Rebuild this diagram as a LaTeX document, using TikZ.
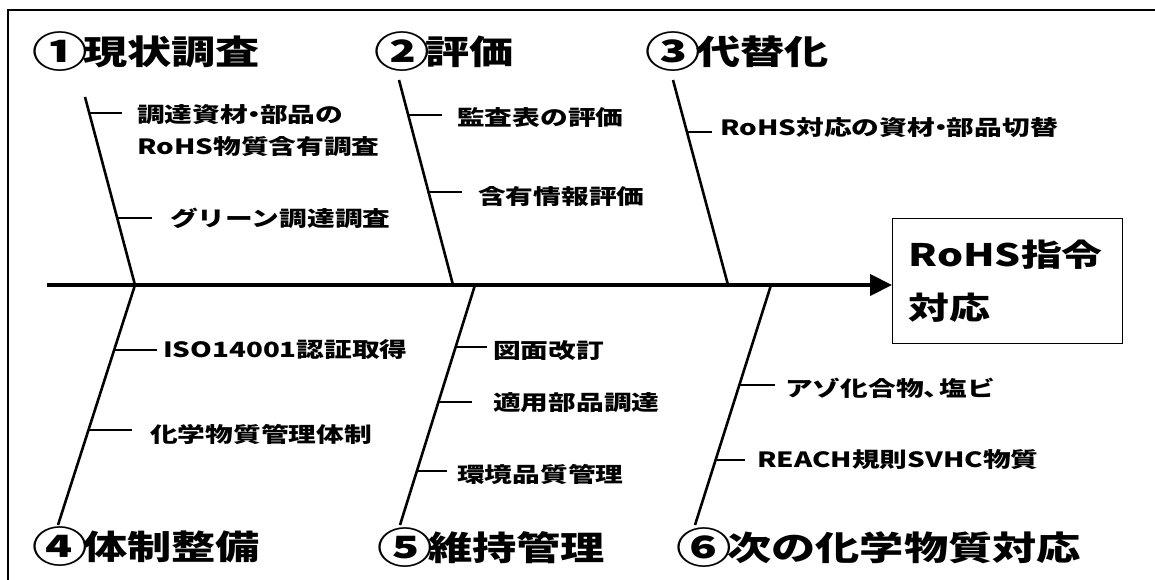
\documentclass[tikz,border=0pt]{standalone}
\usepackage{fontspec}
\newfontfamily\jp[FakeStretch=1.32]{Noto Sans CJK JP}
\usetikzlibrary{arrows.meta,calc}
\newcommand{\cnum}[1]{\makebox[45pt][c]{\raisebox{-3pt}{\fontsize{42}{42}\selectfont #1}}}
\newcommand{\nd}{\makebox[12pt][c]{・}}
\begin{document}
\begin{tikzpicture}[x=1pt,y=-1pt,
  bone/.style={line width=2.6pt},
  tick/.style={line width=2.8pt},
  spine/.style={line width=4.2pt},
  cat/.style={anchor=west,inner sep=0pt,font=\jp\bfseries\fontsize{33.5}{40}\selectfont},
  item/.style={anchor=west,inner sep=0pt,font=\jp\bfseries\fontsize{21}{22}\selectfont},
]
\useasboundingbox (0,0) rectangle (1155,580);
\draw[line width=1.5pt] (8,10) rectangle (1175,600);

% head box
\node[draw,line width=1.3pt,anchor=north west,minimum width=230pt,minimum height=125pt,
      text width=198pt,align=left,inner xsep=16pt,inner ysep=0pt,
      font=\jp\bfseries\fontsize{31}{53}\selectfont] (goal) at (892,218) {\raisebox{-6pt}{RoHS指令}\\\raisebox{-6pt}{対応}};

% spine
\coordinate (tail) at (47,285);
\draw[spine,-{Triangle[length=22pt,width=21pt]}] (tail) -- (tail -| goal.west);

% bones
\coordinate (b1t) at (85,97);   \coordinate (b1s) at (135,285);
\coordinate (b2t) at (399,80);  \coordinate (b2s) at (453,285);
\coordinate (b3t) at (673,80);  \coordinate (b3s) at (728,285);
\coordinate (b4s) at (135,285); \coordinate (b4b) at (58,525);
\coordinate (b5s) at (475,285); \coordinate (b5b) at (400,525);
\coordinate (b6s) at (771,285); \coordinate (b6b) at (695,525);
\draw[bone] (b1t) -- (b1s);
\draw[bone] (b2t) -- (b2s);
\draw[bone] (b3t) -- (b3s);
\draw[bone] (b4s) -- (b4b);
\draw[bone] (b5s) -- (b5b);
\draw[bone] (b6s) -- (b6b);

% category labels
\node[cat] (c1) at (38,52)  {\cnum{①}現状調査};
\node[cat] (c2) at (380,52) {\cnum{②}評価};
\node[cat] (c3) at (651,52) {\cnum{③}代替化};
\node[cat] (c4) at (38,547) {\cnum{④}体制整備};
\node[cat] (c5) at (383,548) {\cnum{⑤}維持管理};
\node[cat] (c6) at (682,548) {\cnum{⑥}次の化学物質対応};

% ticks
\coordinate (t1a) at ($(b1t)!0.085!(b1s)$);
\coordinate (t1b) at ($(b1t)!0.644!(b1s)$);
\coordinate (t2a) at ($(b2t)!0.171!(b2s)$);
\coordinate (t2b) at ($(b2t)!0.546!(b2s)$);
\coordinate (t3a) at ($(b3t)!0.254!(b3s)$);
\coordinate (t4a) at ($(b4s)!0.271!(b4b)$);
\coordinate (t4b) at ($(b4s)!0.604!(b4b)$);
\coordinate (t5a) at ($(b5s)!0.258!(b5b)$);
\coordinate (t5b) at ($(b5s)!0.4875!(b5b)$);
\coordinate (t5c) at ($(b5s)!0.775!(b5b)$);
\coordinate (t6a) at ($(b6s)!0.417!(b6b)$);
\coordinate (t6b) at ($(b6s)!0.729!(b6b)$);
\draw[tick] (t1a) -- ++(33,0);
\draw[tick] (t1b) -- ++(35,0);
\draw[tick] (t2a) -- ++(34,0);
\draw[tick] (t2b) -- ++(34,0);
\draw[tick] (t3a) -- ++(25,0);
\draw[tick] (t4a) -- ++(43,0);
\draw[tick] (t4b) -- ++(44,0);
\draw[tick] (t5a) -- ++(31,0);
\draw[tick] (t5b) -- ++(34,0);
\draw[tick] (t5c) -- ++(30,0);
\draw[tick] (t6a) -- ++(36,0);
\draw[tick] (t6b) -- ++(29,0);

% item labels
\node[item,align=left,font=\jp\bfseries\fontsize{21}{32}\selectfont] (i1a) at (137,131) {調達資材\nd 部品の\\RoHS物質含有調査};
\node[item] (i1b) at (170,218) {グリーン調達調査};
\node[item] (i2a) at (457,118) {監査表の評価};
\node[item] (i2b) at (478,197) {含有情報評価};
\node[item] (i3a) at (720,128) {RoHS対応の資材\nd 部品切替};
\node[item] (i4a) at (163,350) {ISO14001認証取得};
\node[item] (i4b) at (150,434) {化学物質管理体制};
\node[item] (i5a) at (493,351) {図面改訂};
\node[item] (i5b) at (493,403) {適用部品調達};
\node[item] (i5c) at (457,474) {環境品質管理};
\node[item] (i6a) at (785,388) {アゾ化合物\makebox[16pt][l]{、}塩ビ};
\node[item] (i6b) at (757,460) {REACH規則SVHC物質};
\end{tikzpicture}
\end{document}
